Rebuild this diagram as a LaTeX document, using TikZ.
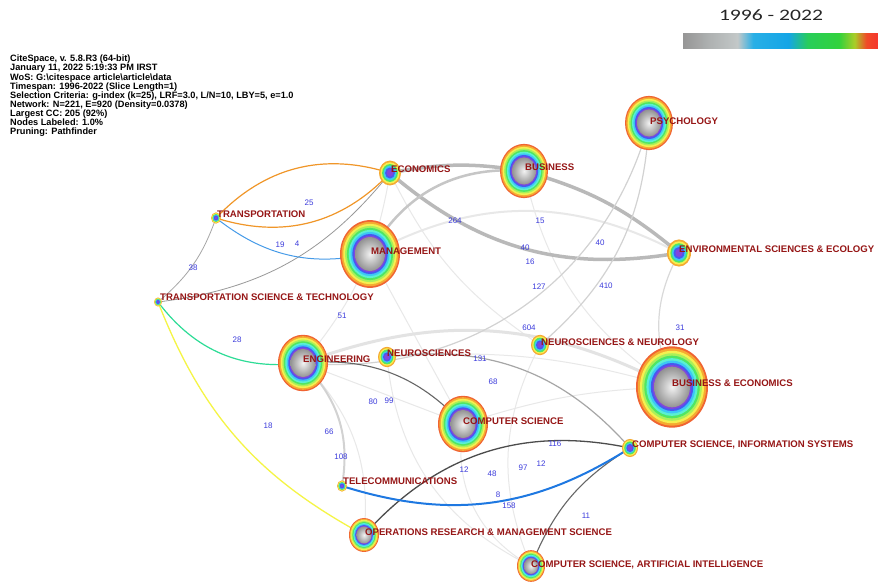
\documentclass[tikz,border=0pt]{standalone}
\usepackage{fontspec}
\setmainfont{Liberation Sans}
\newfontfamily\legendfont{Carlito}

\definecolor{labelred}{RGB}{150,22,22}
\definecolor{numblue}{RGB}{60,60,220}
\definecolor{orangeedge}{RGB}{240,150,40}
\definecolor{blueedge}{RGB}{70,155,232}
\definecolor{teledge}{RGB}{30,120,225}
\definecolor{tealedge}{RGB}{45,220,150}
\definecolor{yellowedge}{RGB}{245,245,70}
\definecolor{ringA}{RGB}{240,100,50}
\definecolor{ringB}{RGB}{245,170,50}
\definecolor{ringC}{RGB}{245,240,80}
\definecolor{ringD}{RGB}{170,240,90}
\definecolor{ringE}{RGB}{80,230,100}
\definecolor{ringF}{RGB}{90,240,210}
\definecolor{ringG}{RGB}{60,200,245}
\definecolor{ringH}{RGB}{70,90,240}
\definecolor{ringI}{RGB}{130,70,220}
\definecolor{bar0}{RGB}{150,150,150}
\definecolor{bar1}{RGB}{175,178,178}
\definecolor{bar2}{RGB}{195,200,200}
\definecolor{bar3}{RGB}{40,175,230}
\definecolor{bar4}{RGB}{20,165,230}
\definecolor{bar5}{RGB}{40,205,90}
\definecolor{bar6}{RGB}{50,210,60}
\definecolor{bar7}{RGB}{170,205,40}
\definecolor{bar8}{RGB}{240,75,40}
\definecolor{bar9}{RGB}{245,55,45}

\pgfdeclarehorizontalshading{yearbar}{100bp}{color(0bp)=(bar0); color(25bp)=(bar0); color(32bp)=(bar1); color(39bp)=(bar2); color(43bp)=(bar3); color(52bp)=(bar4); color(57bp)=(bar5); color(65bp)=(bar6); color(69bp)=(bar7); color(72bp)=(bar8); color(75bp)=(bar9); color(100bp)=(bar9)}

\newcommand{\yearrings}[2]{%
  \foreach \f/\c in {1/ringA,0.95/ringB,0.89/ringC,0.83/ringD,0.77/ringE,0.71/ringF,0.65/ringG,0.59/ringH,0.54/ringI}
    \fill[\c] (#1) ellipse ({\f*#2} and {1.13*\f*#2});
  \shade[inner color=gray!10, outer color=gray!85] (#1) ellipse ({0.5*#2} and {0.565*#2});
}
\newcommand{\smallrings}[2]{%
  \foreach \f/\c in {1/ringB,0.86/ringC,0.72/ringE,0.58/ringG,0.45/ringH}
    \fill[\c] (#1) ellipse ({\f*#2} and {1.13*\f*#2});
  \fill[ringI] (#1) ellipse ({0.3*#2} and {0.34*#2});
}

\tikzset{
  fieldlabel/.style={anchor=west, inner sep=0pt, text height=7pt, text depth=0pt, text=labelred, font=\fontsize{9.6}{10}\selectfont\bfseries},
  edgenum/.style={inner sep=0.5pt, text=numblue, font=\fontsize{8}{8}\selectfont},
  faintlink/.style={draw=gray!18, line width=1pt},
  greylink/.style={draw=gray!45, line width=1.2pt},
  thicklink/.style={draw=gray!55, line width=3.5pt},
  darklink/.style={draw=black!60, line width=1.1pt},
}

\begin{document}
\begin{tikzpicture}[x=1pt,y=-1pt]
\useasboundingbox (0,0) rectangle (878,585);
\fill[white] (0,0) rectangle (878,585);

\coordinate (eco) at (390,173);
\coordinate (bus) at (524,171);
\coordinate (psy) at (649,123);
\coordinate (trans) at (216,218);
\coordinate (mgmt) at (370,254);
\coordinate (env) at (679,253);
\coordinate (tst) at (158,302);
\coordinate (eng) at (303,363);
\coordinate (neuro) at (387,357);
\coordinate (nn) at (540,345);
\coordinate (be) at (672,387);
\coordinate (cs) at (463,424);
\coordinate (csis) at (630,448);
\coordinate (tel) at (342,486);
\coordinate (ors) at (364,535);
\coordinate (csai) at (531,566);

% faint links
\draw[faintlink, line width=2pt] (mgmt) to[bend left=28] (env);
\draw[faintlink] (eco) to[bend right=15] (nn);
\draw[faintlink] (bus) to[bend right=22] (be);
\draw[faintlink] (eco) to[bend left=15] (eng);
\draw[faintlink] (mgmt) -- (cs);
\draw[faintlink] (eng) -- (cs);
\draw[faintlink] (eng) to[bend left=25] (ors);
\draw[faintlink] (neuro) to[bend right=29] (csai);
\draw[faintlink] (neuro) to[bend left=10] (be);
\draw[faintlink] (cs) to[bend left=8] (be);
\draw[faintlink] (nn) to[bend right=25] (csai);
\draw[faintlink] (cs) to[bend right=35] (csai);
\draw[faintlink, draw=gray!22, line width=3pt] (eng) to[bend left=24] (be);

% grey and coloured links
\draw[thicklink] (eco) to[bend right=25] (env);
\draw[thicklink] (eco) to[bend left=10] (bus);
\draw[thicklink] (bus) to[bend left=12] (env);
\draw[thicklink, line width=2.5pt, draw=gray!45] (mgmt) to[bend left=33] (bus);
\draw[greylink, draw=gray!35] (psy) to[bend left=40] (eng);
\draw[greylink, draw=gray!35] (psy) to[bend left=23] (nn);
\draw[greylink, draw=gray!30] (env) to[bend right=25] (be);
\draw[greylink, draw=gray!70] (neuro) to[bend left=28] (csis);
\draw[greylink, draw=gray!35, line width=2pt] (eng) to[bend left=27] (tel);
\draw[greylink, line width=0.8pt, draw=gray!80] (tst) to[bend right=22] (eco);
\draw[greylink, line width=0.8pt, draw=gray!70] (trans) to[bend left=15] (tst);
\draw[darklink] (eng) to[bend left=26] (cs);
\draw[darklink, draw=black!70, line width=1.3pt] (ors) to[bend left=30] (csis);
\draw[darklink] (csai) to[bend left=18] (csis);
\draw[orangeedge, line width=1.2pt] (trans) to[bend left=32] (eco);
\draw[orangeedge, line width=1.2pt] (trans) to[bend right=32] (eco);
\draw[blueedge, line width=1pt] (trans) to[bend right=25] (mgmt);
\draw[tealedge, line width=1.2pt] (tst) to[bend right=30] (eng);
\draw[yellowedge, line width=1.3pt] (tst) to[bend right=20] (ors);
\draw[teledge, line width=2pt] (tel) to[bend right=25] (csis);

% link weights
\node[edgenum] (w25) at (309,203) {25};
\node[edgenum] (w19) at (280,245) {19};
\node[edgenum] (w4) at (297,244) {4};
\node[edgenum] (w38) at (193,268) {38};
\node[edgenum] (w264) at (455,221) {264};
\node[edgenum] (w15) at (540,221) {15};
\node[edgenum] (w40a) at (525,248) {40};
\node[edgenum] (w16) at (530,262) {16};
\node[edgenum] (w40b) at (600,243) {40};
\node[edgenum] (w127) at (539,287) {127};
\node[edgenum] (w410) at (606,286) {410};
\node[edgenum] (w51) at (342,316) {51};
\node[edgenum] (w604) at (529,328) {604};
\node[edgenum] (w28) at (237,340) {28};
\node[edgenum] (w131) at (480,359) {131};
\node[edgenum] (w68) at (493,382) {68};
\node[edgenum] (w80) at (373,402) {80};
\node[edgenum] (w99) at (389,401) {99};
\node[edgenum] (w31) at (680,328) {31};
\node[edgenum] (w18) at (268,426) {18};
\node[edgenum] (w66) at (329,432) {66};
\node[edgenum] (w108) at (341,457) {108};
\node[edgenum] (w116) at (555,444) {116};
\node[edgenum] (w12a) at (464,470) {12};
\node[edgenum] (w48) at (492,474) {48};
\node[edgenum] (w97) at (523,468) {97};
\node[edgenum] (w12b) at (541,464) {12};
\node[edgenum] (w8) at (498,495) {8};
\node[edgenum] (w158) at (509,506) {158};
\node[edgenum] (w11) at (586,516) {11};

% nodes
\foreach \n/\r in {mgmt/30,bus/24,psy/24,eng/25,be/36,cs/25,ors/15,csai/14}
  \yearrings{\n}{\r};
\foreach \n/\r in {eco/11,env/12,trans/5,tst/4,neuro/9,nn/9,csis/8,tel/5}
  \smallrings{\n}{\r};

\node[fieldlabel] (eco-l) at ([xshift=1pt,yshift=4pt]eco) {ECONOMICS};
\node[fieldlabel] (bus-l) at ([xshift=1pt,yshift=4pt]bus) {BUSINESS};
\node[fieldlabel] (psy-l) at ([xshift=1pt,yshift=2pt]psy) {PSYCHOLOGY};
\node[fieldlabel] (trans-l) at ([xshift=1pt,yshift=4pt]trans) {TRANSPORTATION};
\node[fieldlabel] (mgmt-l) at ([xshift=1pt,yshift=3pt]mgmt) {MANAGEMENT};
\node[fieldlabel] (env-l) at ([xshift=0pt,yshift=4pt]env) {ENVIRONMENTAL SCIENCES \& ECOLOGY};
\node[fieldlabel] (tst-l) at ([xshift=2pt,yshift=5pt]tst) {TRANSPORTATION SCIENCE \& TECHNOLOGY};
\node[fieldlabel] (eng-l) at ([xshift=0pt,yshift=4pt]eng) {ENGINEERING};
\node[fieldlabel] (neuro-l) at ([xshift=0pt,yshift=4pt]neuro) {NEUROSCIENCES};
\node[fieldlabel] (nn-l) at ([xshift=1pt,yshift=3pt]nn) {NEUROSCIENCES \& NEUROLOGY};
\node[fieldlabel] (be-l) at ([xshift=0pt,yshift=4pt]be) {BUSINESS \& ECONOMICS};
\node[fieldlabel] (cs-l) at ([xshift=0pt,yshift=3pt]cs) {COMPUTER SCIENCE};
\node[fieldlabel] (csis-l) at ([xshift=2pt,yshift=4pt]csis) {COMPUTER SCIENCE, INFORMATION SYSTEMS};
\node[fieldlabel] (tel-l) at ([xshift=1pt,yshift=5pt]tel) {TELECOMMUNICATIONS};
\node[fieldlabel] (ors-l) at ([xshift=1pt,yshift=3pt]ors) {OPERATIONS RESEARCH \& MANAGEMENT SCIENCE};
\node[fieldlabel] (csai-l) at ([xshift=0pt,yshift=2pt]csai) {COMPUTER SCIENCE, ARTIFICIAL INTELLIGENCE};

% run information
\node[anchor=north west, align=left, inner sep=0pt, font=\fontsize{9.2}{9.1}\selectfont\bfseries] (info) at (10,55)
  {CiteSpace, v. 5.8.R3 (64-bit)\\
   January 11, 2022 5:19:33 PM IRST\\
   WoS: G:\textbackslash citespace article\textbackslash article\textbackslash data\\
   Timespan: 1996-2022 (Slice Length=1)\\
   Selection Criteria: g-index (k=25), LRF=3.0, L/N=10, LBY=5, e=1.0\\
   Network: N=221, E=920 (Density=0.0378)\\
   Largest CC: 205 (92\%)\\
   Nodes Labeled: 1.0\%\\
   Pruning: Pathfinder};

% year legend
\node[font=\fontsize{16}{17}\legendfont, text=black!85] (span) at (771,15) {\scalebox{1.35}[1]{1996 - 2022}};
\shade[shading=yearbar] (683,34) rectangle (878,49);
\end{tikzpicture}
\end{document}
